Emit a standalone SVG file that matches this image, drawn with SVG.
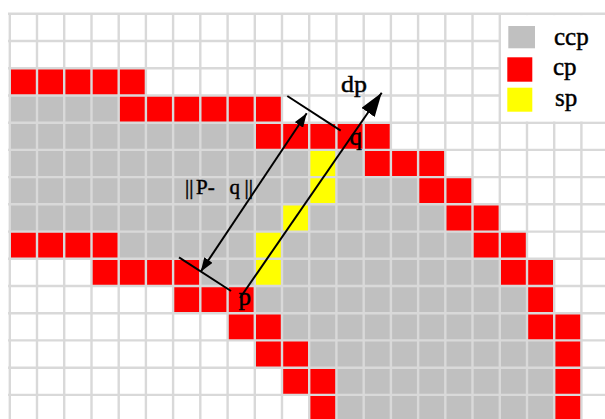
<svg xmlns="http://www.w3.org/2000/svg" width="605" height="419" viewBox="0 0 605 419">
<style>
.g{fill:#c0c0c0}.r{fill:#ff0000}.y{fill:#ffff00}
.grid{stroke:#d9d9d9;stroke-width:2.4;fill:none}
.ln{stroke:#000;stroke-width:2;fill:none}
.t{font-family:"Liberation Serif","Times New Roman",serif;fill:#000;stroke:#000;stroke-width:0.45}
</style>
<defs>
<marker id="ah" markerUnits="userSpaceOnUse" markerWidth="15" markerHeight="10" refX="14" refY="5" orient="auto-start-reverse"><path d="M0,0 L14,5 L0,10 Z" fill="#000"/></marker>
<marker id="ahb" markerUnits="userSpaceOnUse" markerWidth="25" markerHeight="16" refX="24" refY="8" orient="auto"><path d="M0,0 L24,8 L0,16 Z" fill="#000"/></marker>
</defs>
<rect width="605" height="419" fill="#fff"/>
<g id="cells">
<rect class="r" x="9.8" y="68.2" width="136.1" height="27.3"/>
<rect class="g" x="9.8" y="95.5" width="108.9" height="27.3"/>
<rect class="r" x="118.7" y="95.5" width="163.3" height="27.3"/>
<rect class="g" x="9.8" y="122.7" width="245" height="27.3"/>
<rect class="r" x="254.8" y="122.7" width="136.1" height="27.3"/>
<rect class="g" x="9.8" y="149.9" width="299.4" height="27.3"/>
<rect class="y" x="309.2" y="149.9" width="27.2" height="27.3"/>
<rect class="g" x="336.4" y="149.9" width="27.3" height="27.3"/>
<rect class="r" x="363.7" y="149.9" width="81.6" height="27.3"/>
<rect class="g" x="9.8" y="177.1" width="299.4" height="27.3"/>
<rect class="y" x="309.2" y="177.1" width="27.2" height="27.3"/>
<rect class="g" x="336.4" y="177.1" width="81.7" height="27.3"/>
<rect class="r" x="418.1" y="177.1" width="54.4" height="27.3"/>
<rect class="g" x="9.8" y="204.3" width="272.2" height="27.3"/>
<rect class="y" x="282" y="204.3" width="27.2" height="27.3"/>
<rect class="g" x="309.2" y="204.3" width="136.1" height="27.3"/>
<rect class="r" x="445.3" y="204.3" width="54.5" height="27.3"/>
<rect class="r" x="9.8" y="231.6" width="108.9" height="27.3"/>
<rect class="g" x="118.7" y="231.6" width="136.1" height="27.3"/>
<rect class="y" x="254.8" y="231.6" width="27.2" height="27.3"/>
<rect class="g" x="282" y="231.6" width="190.5" height="27.3"/>
<rect class="r" x="472.5" y="231.6" width="54.5" height="27.3"/>
<rect class="r" x="91.5" y="258.8" width="108.8" height="27.3"/>
<rect class="g" x="200.3" y="258.8" width="54.5" height="27.3"/>
<rect class="y" x="254.8" y="258.8" width="27.2" height="27.3"/>
<rect class="g" x="282" y="258.8" width="217.8" height="27.3"/>
<rect class="r" x="499.8" y="258.8" width="54.4" height="27.3"/>
<rect class="r" x="173.1" y="286" width="81.7" height="27.3"/>
<rect class="g" x="254.8" y="286" width="272.2" height="27.3"/>
<rect class="r" x="527" y="286" width="27.2" height="27.3"/>
<rect class="r" x="227.6" y="313.2" width="54.4" height="27.3"/>
<rect class="g" x="282" y="313.2" width="245" height="27.3"/>
<rect class="r" x="527" y="313.2" width="54.4" height="27.3"/>
<rect class="r" x="254.8" y="340.4" width="54.4" height="27.3"/>
<rect class="g" x="309.2" y="340.4" width="245" height="27.3"/>
<rect class="r" x="554.2" y="340.4" width="27.2" height="27.3"/>
<rect class="r" x="282" y="367.7" width="54.4" height="27.3"/>
<rect class="g" x="336.4" y="367.7" width="217.8" height="27.3"/>
<rect class="r" x="554.2" y="367.7" width="27.2" height="27.3"/>
<rect class="r" x="309.2" y="394.9" width="27.2" height="25"/>
<rect class="g" x="336.4" y="394.9" width="217.8" height="25"/>
<rect class="r" x="554.2" y="394.9" width="27.2" height="25"/>
</g>
<g id="gridlines">
<path class="grid" d="M9.8,13.8V419M37,13.8V419M64.2,13.8V419M91.5,13.8V419M118.7,13.8V419M145.9,13.8V419M173.1,13.8V419M200.3,13.8V419M227.6,13.8V419M254.8,13.8V419M282,13.8V419M309.2,13.8V419M336.4,13.8V419M363.7,13.8V419M390.9,13.8V419M418.1,13.8V419M445.3,13.8V419M472.5,13.8V419M499.8,13.8V419M527,13.8V419M554.2,13.8V419M581.4,13.8V419M8,13.8H605M8,41H605M8,68.2H605M8,95.5H605M8,122.7H605M8,149.9H605M8,177.1H605M8,204.3H605M8,231.6H605M8,258.8H605M8,286H605M8,313.2H605M8,340.4H605M8,367.7H605M8,394.9H605"/>
</g>
<g id="legend">
<rect x="501" y="15.1" width="104" height="106.3" fill="#fff"/>
<rect class="g" x="508.3" y="26" width="26.7" height="22.3"/>
<rect class="r" x="507.3" y="57.3" width="25" height="24.4"/>
<rect class="y" x="507.3" y="87.7" width="25" height="24"/>
<text class="t" x="554" y="45" font-size="25">ccp</text>
<text class="t" x="553" y="75" font-size="25">cp</text>
<text class="t" x="555" y="105.5" font-size="25">sp</text>
</g>
<g id="connectors">
<line class="ln" x1="287.3" y1="96" x2="340.7" y2="130.7"/>
<line class="ln" x1="179" y1="257.3" x2="231" y2="291"/>
<line class="ln" x1="200.7" y1="271.7" x2="306.7" y2="113.3" marker-start="url(#ah)" marker-end="url(#ah)"/>
<line class="ln" x1="240" y1="298" x2="381.7" y2="92.7" marker-end="url(#ahb)"/>
</g>
<g id="labels">
<text class="t" x="341" y="91.5" font-size="24" textLength="26" lengthAdjust="spacingAndGlyphs">dp</text>
<text class="t" x="349.5" y="145" font-size="25">q</text>
<text class="t" x="238.5" y="305" font-size="25">p</text>
<text class="t" y="194" font-size="21" stroke-width="0.6"><tspan x="185">||</tspan><tspan x="196">P- </tspan><tspan x="229.5">q</tspan><tspan x="244.5">||</tspan></text>
</g>
</svg>
